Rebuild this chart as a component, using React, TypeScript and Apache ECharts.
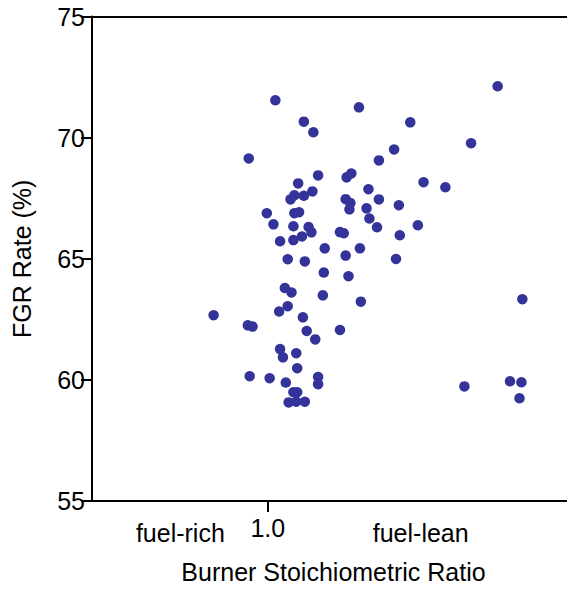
import React, { useEffect, useRef } from "react";
import * as echarts from "echarts";

// Burner stoichiometric ratio (x) and FGR rate in % (y)
const ratio: number[] = [
  1.008, 1.096, 1.038, 1.048, 0.980, 1.117, 1.053, 1.032, 1.083, 1.088,
  1.106, 1.028, 1.024, 1.038, 1.047, 1.082, 1.087, 1.086, 1.104, 1.117,
  0.999, 1.028, 1.033, 1.006, 1.027, 1.043, 1.046, 1.036, 1.076, 1.080,
  1.107, 1.115, 1.013, 1.027, 1.060, 1.097, 1.082, 1.021, 1.039, 1.059,
  1.085, 1.018, 1.025, 1.058, 1.098, 0.943, 1.021, 1.012, 0.979, 0.984,
  1.037, 1.041, 1.050, 1.076, 1.013, 1.016, 1.030, 1.031, 0.981, 1.002,
  1.019, 1.053, 1.053, 1.027, 1.031, 1.022, 1.030, 1.039, 1.242, 1.150,
  1.214, 1.133, 1.164, 1.187, 1.138, 1.158, 1.139, 1.135, 1.268, 1.207,
  1.255, 1.267, 1.265,
];
const fgrRate: number[] = [
  71.54, 71.25, 70.66, 70.22, 69.14, 69.06, 68.44, 68.11, 68.36, 68.52,
  67.87, 67.62, 67.45, 67.60, 67.78, 67.46, 67.30, 67.04, 67.08, 67.45,
  66.88, 66.88, 66.92, 66.42, 66.34, 66.31, 66.09, 65.92, 66.10, 66.05,
  66.66, 66.30, 65.72, 65.77, 65.43, 65.43, 65.13, 64.98, 64.89, 64.43,
  64.28, 63.79, 63.61, 63.49, 63.23, 62.67, 63.04, 62.82, 62.25, 62.20,
  62.58, 62.02, 61.67, 62.06, 61.27, 60.93, 61.10, 60.48, 60.15, 60.07,
  59.89, 60.12, 59.82, 59.49, 59.49, 59.07, 59.10, 59.10, 72.12, 70.63,
  69.77, 69.51, 68.16, 67.95, 67.21, 66.38, 65.97, 64.99, 63.33, 59.73,
  59.94, 59.90, 59.24,
];

const xMin = 0.815;
const xMax = 1.315;
const tickValues: number[] = [1.0];
const tickLabels: string[] = ["1.0"];
const regionValues: number[] = [0.908, 1.161];
const regionLabels: string[] = ["fuel-rich", "fuel-lean"];
const yTicks: number[] = [55, 60, 65, 70, 75];

const FONT = "'Liberation Sans', Arial, Helvetica, sans-serif";
const FS = 25;

function nearestLabel(v: number, vals: number[], labels: string[]): string {
  let best = 0;
  for (let i = 1; i < vals.length; i++) {
    if (Math.abs(vals[i] - v) < Math.abs(vals[best] - v)) best = i;
  }
  return labels[best];
}

export default function App() {
  const ref = useRef<HTMLDivElement>(null);
  useEffect(() => {
    if (!ref.current) return;
    const chart = echarts.init(ref.current, undefined, { renderer: "svg" });
    const data = ratio.map((x, i) => [x, fgrRate[i]]);
    chart.setOption({
      animation: false,
      backgroundColor: "#ffffff",
      grid: { left: 92, right: 0, top: 16.5, bottom: 90, containLabel: false },
      xAxis: [
        {
          type: "value",
          position: "bottom",
          min: xMin,
          max: xMax,
          splitLine: { show: false },
          axisLine: { show: true, onZero: false, lineStyle: { color: "#000", width: 2 } },
          axisTick: { show: true, customValues: tickValues, length: 11, lineStyle: { color: "#000", width: 2 } },
          axisLabel: {
            show: true,
            customValues: tickValues,
            margin: 14,
            color: "#000",
            fontSize: FS,
            fontFamily: FONT,
            formatter: (v: number) => nearestLabel(v, tickValues, tickLabels),
          },
          name: "Burner Stoichiometric Ratio",
          nameLocation: "middle",
          nameGap: 58,
          nameTextStyle: { color: "#000", fontSize: FS, fontFamily: FONT, padding: [0, 0, 0, 8] },
        },
        {
          type: "value",
          position: "top",
          min: xMin,
          max: xMax,
          splitLine: { show: false },
          axisLine: { show: true, onZero: false, lineStyle: { color: "#000", width: 2 } },
          axisTick: { show: false },
          axisLabel: { show: false },
        },
        {
          type: "value",
          position: "bottom",
          min: xMin,
          max: xMax,
          splitLine: { show: false },
          axisLine: { show: false, onZero: false },
          axisTick: { show: false },
          axisLabel: {
            show: true,
            customValues: regionValues,
            margin: 19,
            color: "#000",
            fontSize: FS,
            fontFamily: FONT,
            formatter: (v: number) => nearestLabel(v, regionValues, regionLabels),
          },
        },
      ],
      yAxis: {
        type: "value",
        min: 55,
        max: 75,
        interval: 5,
        splitLine: { show: false },
        axisLine: { show: true, onZero: false, lineStyle: { color: "#000", width: 2 } },
        axisTick: { show: true, length: 11, lineStyle: { color: "#000", width: 2 } },
        axisLabel: {
          margin: 7,
          color: "#000",
          fontSize: FS,
          fontFamily: FONT,
          formatter: (v: number) => (yTicks.includes(v) ? String(v) : ""),
        },
        name: "FGR Rate (%)",
        nameLocation: "middle",
        nameGap: 58,
        nameTextStyle: { color: "#000", fontSize: FS, fontFamily: FONT },
      },
      series: [
        {
          type: "scatter",
          xAxisIndex: 0,
          data,
          symbol: "circle",
          symbolSize: 10.5,
          itemStyle: { color: "#333399", opacity: 1 },
        },
      ],
    });
    return () => chart.dispose();
  }, []);
  return (
    <div
      ref={ref}
      style={{ position: "fixed", left: 0, top: 0, width: 567, height: 591, background: "#fff" }}
    />
  );
}
